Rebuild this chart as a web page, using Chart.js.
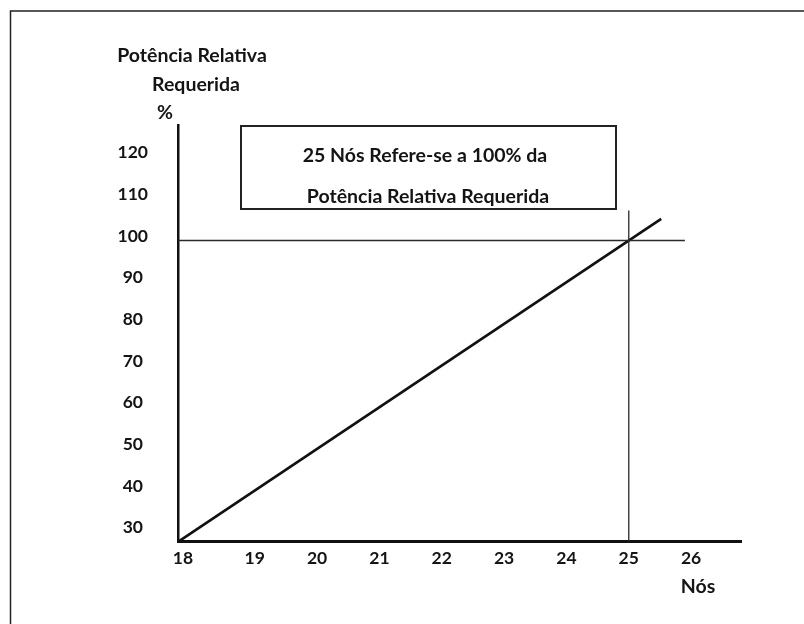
<!DOCTYPE html>
<html>
<head>
<meta charset="utf-8">
<script src="https://cdn.jsdelivr.net/npm/chart.js@4/dist/chart.umd.min.js"></script>
<style>
  html, body { margin: 0; padding: 0; background: #fff; }
  #wrap { width: 804px; height: 624px; }
</style>
</head>
<body>
<div id="wrap"><canvas id="potChart" width="804" height="624"></canvas></div>
<script>
// eixo X: nós
const xTicks = [18, 19, 20, 21, 22, 23, 24, 25, 26];
// eixo Y: potência relativa requerida (%)
const yTicks = [30, 40, 50, 60, 70, 80, 90, 100, 110, 120];

// reta da potência (da origem até além de 25 nós)
const lineNos = [17.77, 25.52];
const linePot = [27.7, 105.2];

// linhas de referência: 100% e 25 nós
const refPotY = [100, 100];
const refPotX = [17.77, 25.9];
const refNosX = [25, 25];
const refNosY = [27.75, 107.2];

const FONT = "Lato, 'Open Sans', sans-serif";
const INK = "#141414";

const frameAndNotes = {
    id: "frameAndNotes",
    beforeDraw: function (chart) {
        const ctx = chart.ctx;
        ctx.save();
        ctx.fillStyle = "#fff";
        ctx.fillRect(0, 0, chart.width, chart.height);
        ctx.strokeStyle = "#222";
        ctx.lineWidth = 1.5;
        ctx.strokeRect(10.5, 11, 900, 700);
        ctx.restore();
    },
    afterDraw: function (chart) {
        const ctx = chart.ctx;
        ctx.save();
        ctx.fillStyle = INK;
        ctx.font = "bold 19.5px " + FONT;
        ctx.textAlign = "center";
        ctx.textBaseline = "middle";
        ctx.fillText("Potência Relativa", 192, 56);
        ctx.fillText("Requerida", 196, 85);
        ctx.fillText("%", 165, 113);

        ctx.strokeStyle = "#222";
        ctx.lineWidth = 2;
        ctx.strokeRect(241, 126, 375, 83);
        ctx.fillText("25 Nós Refere-se a 100% da", 425, 156);
        ctx.fillText("Potência Relativa Requerida", 428, 197);

        ctx.fillText("Nós", 698, 587);
        ctx.restore();
    }
};

new Chart(document.getElementById("potChart"), {
    type: "scatter",
    plugins: [frameAndNotes],
    data: {
        datasets: [
            {
                data: refPotX.map((x, i) => ({ x: x, y: refPotY[i] })),
                showLine: true,
                borderColor: "#2a2a2a",
                borderWidth: 1.3,
                pointRadius: 0
            },
            {
                data: refNosX.map((x, i) => ({ x: x, y: refNosY[i] })),
                showLine: true,
                borderColor: "#2a2a2a",
                borderWidth: 1.3,
                pointRadius: 0
            },
            {
                data: lineNos.map((x, i) => ({ x: x, y: linePot[i] })),
                showLine: true,
                borderColor: "#111",
                borderWidth: 2.6,
                pointRadius: 0
            }
        ]
    },
    options: {
        responsive: false,
        animation: false,
        events: [],
        layout: {
            padding: { left: 0, top: 125, right: 63, bottom: 37.3 }
        },
        plugins: {
            legend: { display: false },
            tooltip: { enabled: false }
        },
        scales: {
            x: {
                type: "linear",
                min: 17.77,
                max: 26.8,
                afterBuildTicks: function (scale) {
                    // o rótulo "18" fica junto à origem
                    scale.ticks = xTicks.map((v, i) => ({ value: i === 0 ? scale.min + 0.08 : v }));
                },
                afterFit: function (scale) { scale.height = 45; },
                grid: { display: false, drawTicks: false },
                border: { color: "#111", width: 3 },
                ticks: {
                    padding: 6,
                    color: INK,
                    font: { family: FONT, size: 17.5, weight: "bold" },
                    callback: function (value, index) { return String(xTicks[index]); }
                }
            },
            y: {
                type: "linear",
                min: 27.75,
                max: 127.7,
                afterBuildTicks: function (scale) {
                    scale.ticks = yTicks.map(v => ({ value: v }));
                },
                afterFit: function (scale) { scale.width = 178; },
                grid: { display: false, drawTicks: false },
                border: { color: "#111", width: 2.5 },
                ticks: {
                    padding: 30,
                    crossAlign: "center",
                    labelOffset: -4.5,
                    color: INK,
                    font: { family: FONT, size: 17.5, weight: "bold" },
                    callback: function (value) { return String(value); }
                }
            }
        }
    }
});
</script>
</body>
</html>
